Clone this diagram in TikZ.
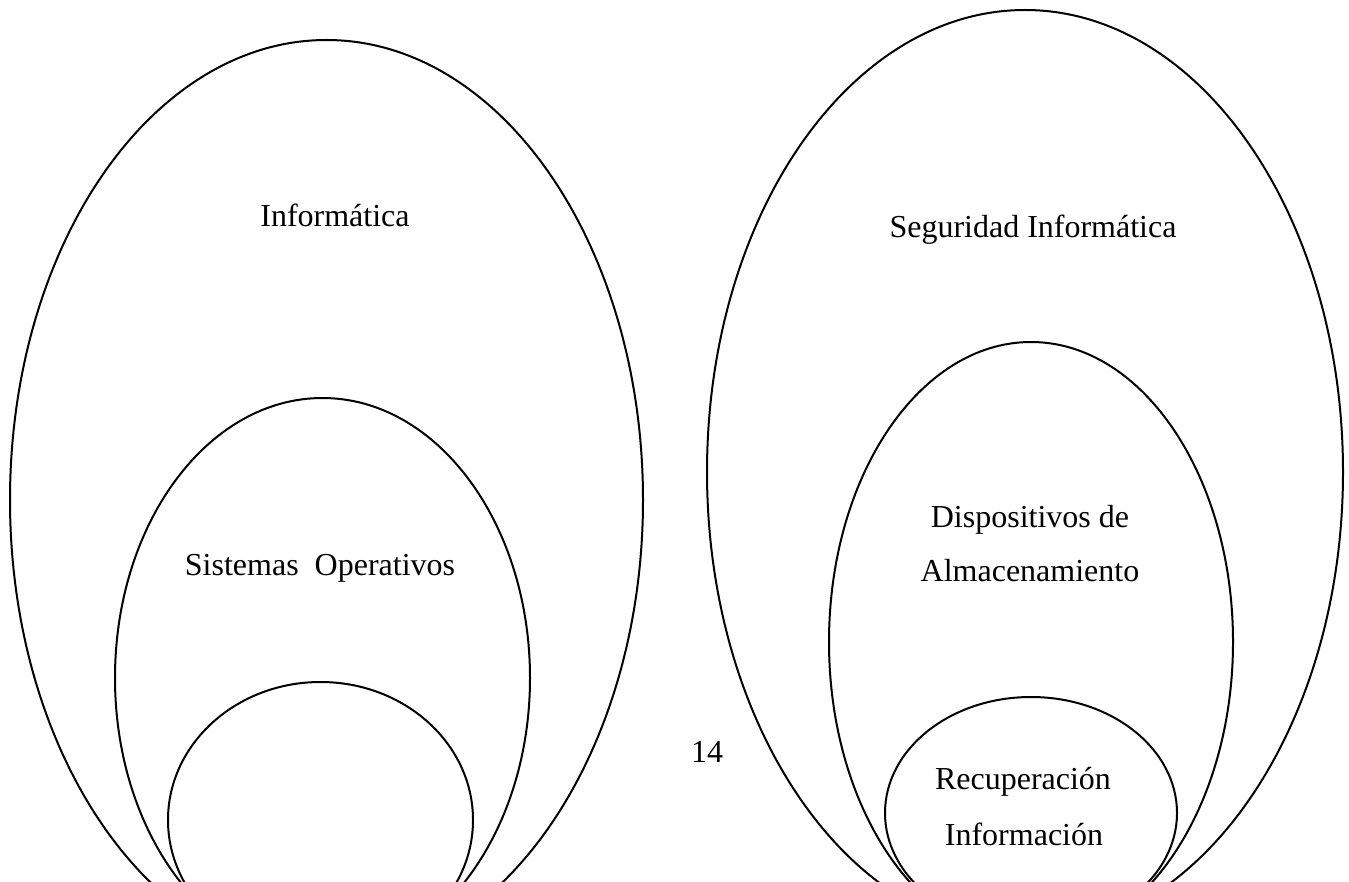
\documentclass[tikz,border=0pt]{standalone}
\usepackage{fontspec}
\setmainfont{Liberation Serif}
\begin{document}
\begin{tikzpicture}[x=1pt,y=-1pt,
  ring/.style={draw=black,line width=2pt},
  lbl/.style={anchor=base,inner sep=0pt,font=\fontsize{32}{38}\selectfont}]
\useasboundingbox (0,0) rectangle (1349,882);
\begin{scope}
\clip (0,0) rectangle (1349,882);
% left set
\draw[ring] (326.5,500) ellipse [x radius=316.5pt, y radius=460pt];
\draw[ring] (322.5,678) ellipse [x radius=207.5pt, y radius=280pt];
\draw[ring] (320.5,820) ellipse [x radius=152.5pt, y radius=138pt];
% right set
\draw[ring] (1025,472) ellipse [x radius=318pt, y radius=462pt];
\draw[ring] (1031,642) ellipse [x radius=202pt, y radius=300pt];
\draw[ring] (1031,813) ellipse [x radius=146pt, y radius=116pt];
\end{scope}
\node[lbl] (inf) at (335,227) {Informática};
\node[lbl] (so) at (320,575) {Sistemas\ \ Operativos};
\node[lbl] (seg) at (1033,238) {Seguridad Informática};
\node[lbl] (disp1) at (1030,527) {Dispositivos de};
\node[lbl] (disp2) at (1030,581) {Almacenamiento};
\node[lbl] (num) at (707,762) {14};
\node[lbl] (rec1) at (1023,789) {Recuperación};
\node[lbl] (rec2) at (1024,845) {Información};
\end{tikzpicture}
\end{document}
